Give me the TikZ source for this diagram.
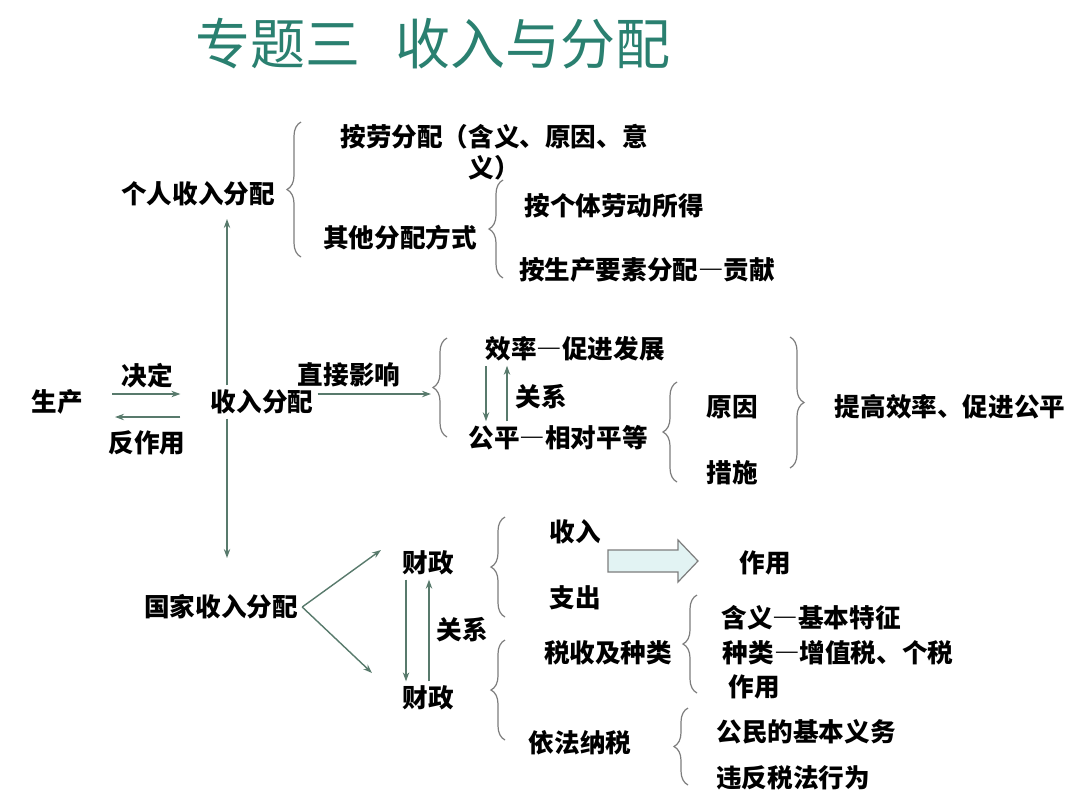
\documentclass[tikz,border=0pt]{standalone}
\usepackage{fontspec}
\setmainfont{Noto Sans CJK SC}
\usetikzlibrary{calc,arrows.meta,decorations.pathreplacing}
\definecolor{titlegreen}{RGB}{42,128,112}
\definecolor{arrowgreen}{RGB}{88,122,108}
\definecolor{bracegray}{RGB}{125,125,125}
\definecolor{arrowfill}{RGB}{226,243,243}

\begin{document}
\begin{tikzpicture}[x=0.5pt, y=-0.5pt,
	every node/.style={font=\fontsize{12.8}{15.5}\selectfont\bfseries, inner sep=2pt},
	arr/.style={draw=arrowgreen, line width=0.7pt, -{Stealth[length=4.5pt, width=3.2pt]}},
	brc/.style={draw=bracegray, line width=0.6pt, decorate, decoration={brace, amplitude=7pt}}]
			%%%%% START %%%%%
			
			\useasboundingbox[fill=white] (0,0) rectangle (1080,800);
			
			\node[font=\fontsize{27.5}{30}\selectfont, text=titlegreen] (title) at (433, 44) {专题三\hspace{18pt}收入与分配};
			
			% personal income
			\node (personal) at (198, 194) {个人收入分配};
			\node[align=center] (labour) at (494, 152) {按劳分配（含义、原因、意\\义）};
			\node (others) at (400, 238) {其他分配方式};
			\node (indiv) at (614, 206) {按个体劳动所得};
			\node (factor) at (647, 270) {按生产要素分配―贡献};
			\draw[brc] (301, 257) -- (301, 122);
			\draw[brc] (503, 278) -- (503, 180);
			
			% production and income
			\node (prod) at (57, 402) {生产};
			\node (decide) at (147, 376) {决定};
			\node (react) at (147, 443) {反作用};
			\node (income) at (262, 402) {收入分配};
			\node (direct) at (349, 375) {直接影响};
			\draw[arr] ($(prod.east)+(25,-8)$) -- ($(income.west)+(-26,-8)$);
			\draw[arr] ($(income.west)+(-26,15)$) -- ($(prod.east)+(28,15)$);
			
			\coordinate (trunktop) at (227, 219);
			\coordinate (trunkbot) at (227, 558);
			\draw[arr] (income.north -| trunktop) -- (trunktop);
			\draw[arr] (income.south -| trunkbot) -- (trunkbot);
			
			\coordinate (b3) at (431, 394);
			\draw[arr] (income.east |- b3) -- (b3);
			
			% efficiency and fairness
			\node (eff) at (575, 349) {效率―促进发展};
			\node (rel1) at (541, 397) {关系};
			\node (fair) at (558, 438) {公平―相对平等};
			\node (reason) at (732, 407) {原因};
			\node (measure) at (732, 473) {措施};
			\node (goal) at (950, 407) {提高效率、促进公平};
			\draw[arr] (eff.south -| 486,0) -- (fair.north -| 486,0);
			\draw[arr] (fair.north -| 507,0) -- (eff.south -| 507,0);
			\draw[brc] (447, 437) -- (447, 338);
			\draw[brc] (677, 482) -- (677, 382);
			\draw[brc] (790, 337) -- (790, 468);
			
			% state income
			\node (state) at (221, 607) {国家收入分配};
			\node (fin1) at (428, 563) {财政};
			\node (fin2) at (428, 698) {财政};
			\node (rel2) at (462, 630) {关系};
			\draw[arr] (state.east) -- ($(fin1.west)+(-17,-13)$);
			\draw[arr] (state.east) -- ($(fin2.west)+(-26,-25)$);
			\draw[arr] (fin1.south -| 406,0) -- (fin2.north -| 406,0);
			\draw[arr] (fin2.north -| 429,0) -- (fin1.south -| 429,0);
			
			\node (revenue) at (575, 532) {收入};
			\node (spend) at (575, 598) {支出};
			\node (func1) at (765, 563) {作用};
			\draw[draw=bracegray, fill=arrowfill, line width=0.6pt] (608, 550) -- (678, 550) -- (678, 540) -- (698, 561) -- (678, 582) -- (678, 572) -- (608, 572) -- cycle;
			\draw[brc] (505, 617) -- (505, 517);
			
			\node (tax) at (608, 653) {税收及种类};
			\node (lawtax) at (580, 743) {依法纳税};
			\node (meaning) at (811, 618) {含义―基本特征};
			\node (kinds) at (838, 653) {种类―增值税、个税};
			\node (func2) at (754, 687) {作用};
			\node (duty) at (806, 732) {公民的基本义务};
			\node (violate) at (793, 778) {违反税法行为};
			\draw[brc] (505, 740) -- (505, 640);
			\draw[brc] (697, 693) -- (697, 595);
			\draw[brc] (688, 785) -- (688, 708);
			
			%%%%% END %%%%%
\end{tikzpicture}
\end{document}
